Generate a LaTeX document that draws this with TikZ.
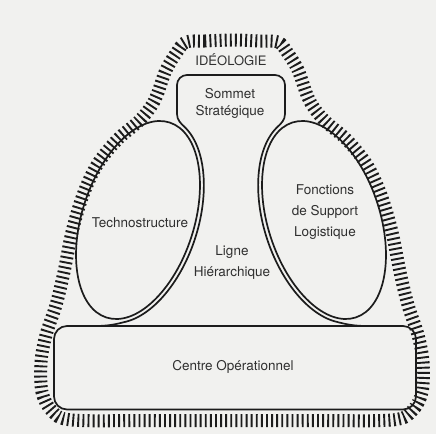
\documentclass[tikz,border=0pt]{standalone}
\usepackage{fontspec}
\setmainfont{TeX Gyre Heros}
\usetikzlibrary{shapes.geometric}
\definecolor{paper}{RGB}{241,241,239}
\definecolor{ink}{RGB}{28,28,28}
\definecolor{txt}{RGB}{48,48,48}
\begin{document}
\begin{tikzpicture}[x=1pt,y=1pt,
  outline/.style={draw=ink, line width=1.7pt},
  hatchband/.style={draw=ink, line width=13pt, dash pattern=on 1.9pt off 3.2pt},
  lbl/.style={font=\fontsize{13.5}{15}\selectfont, text=txt, align=center, inner sep=0pt}]
\fill[paper] (0,0) rectangle (436,434);
\useasboundingbox (0,0) rectangle (436,434);
% ideology fringe
\draw[hatchband] plot[smooth cycle, tension=0.55] coordinates {
 (232,394) (205,393) (186,392) (177,382) (166,364) (157,339) (150,326) (138,312)
 (117,294) (97,269) (83,239) (72,202) (64,162) (56,129) (46,99) (41,72) (42,42)
 (52,23) (72,14) (150,13.5) (232,13.5) (314,13.5) (392,14) (412,23) (422,42)
 (423,72) (418,99) (408,129) (400,162) (392,202) (381,239) (367,269) (347,294)
 (326,312) (314,326) (307,339) (298,364) (287,382) (278,392) (259,393)};
% operating core
\node[outline, rounded corners=13pt, minimum width=362pt, minimum height=83.5pt, inner sep=0pt] (coreBox) at (235,66.25) {};
% side ellipses
\node[outline, ellipse, minimum width=205pt, minimum height=112pt, inner sep=0pt, rotate=72] (techE) at (138,214) {};
\node[outline, ellipse, minimum width=205pt, minimum height=112pt, inner sep=0pt, rotate=108] (suppE) at (324,214) {};
% strategic apex + middle line outline
\draw[outline] (95,108) .. controls (107,108) and (114.6,109.3) .. (126.6,112.5)
  -- plot[domain=-160:-15, samples=60, variable=\t] ({138+32.91*cos(\t)-57.06*sin(\t)}, {214+101.29*cos(\t)+18.54*sin(\t)})
  .. controls (181,310.4) and (177,314) .. (177,320)
  -- (177,349) arc[start angle=180, end angle=90, radius=10] -- (275,359)
  arc[start angle=90, end angle=0, radius=10] -- (285,320)
  .. controls (285,314) and (281,310.4) .. (277.44,307.04)
  -- plot[domain=-15:-160, samples=60, variable=\t] ({324-32.91*cos(\t)+57.06*sin(\t)}, {214+101.29*cos(\t)+18.54*sin(\t)})
  .. controls (347.4,109.3) and (355,108) .. (367,108);
% labels
\node[lbl, font=\fontsize{13}{15}\selectfont] (ideo) at (231,374) {IDÉOLOGIE};
\node[lbl, font=\fontsize{13.5}{17}\selectfont] (sommet) at (230,331) {Sommet\\Stratégique};
\node[lbl] (techno) at (140,211) {Technostructure};
\node[lbl, font=\fontsize{13.5}{21}\selectfont] (support) at (325,222) {Fonctions\\de Support\\Logistique};
\node[lbl, font=\fontsize{13.5}{21}\selectfont] (ligne) at (232,171) {Ligne\\Hiérarchique};
\node[lbl] (centre) at (233,67) {Centre Opérationnel};
\end{tikzpicture}
\end{document}
